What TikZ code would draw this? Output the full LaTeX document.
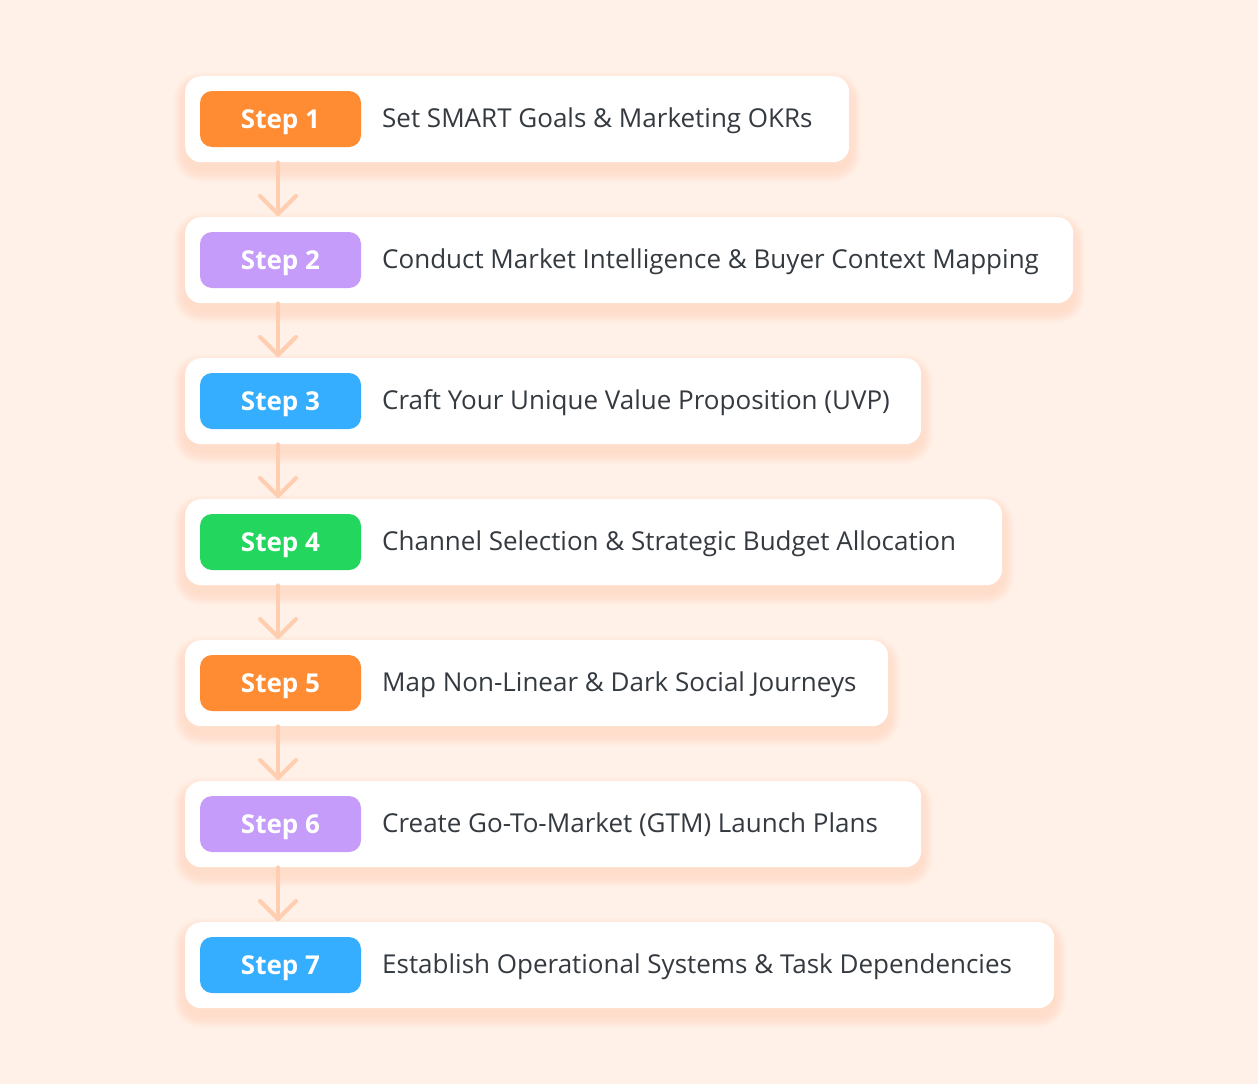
\documentclass[tikz,border=0pt]{standalone}
\usepackage{fontspec}
\setmainfont{Open Sans}
\usetikzlibrary{calc}
\definecolor{bg}{HTML}{FFF1E8}
\definecolor{shadowc}{HTML}{FFC9A6}
\definecolor{txt}{HTML}{343A40}
\definecolor{arrc}{HTML}{FFCDB0}
\definecolor{cOrange}{HTML}{FF8C33}
\definecolor{cPurple}{HTML}{C59CFA}
\definecolor{cBlue}{HTML}{36AEFF}
\definecolor{cGreen}{HTML}{22D65E}
\tikzset{
  card/.style={fill=white, rounded corners=16pt, anchor=north west, minimum height=86pt, inner sep=0pt},
  pill/.style={rounded corners=12pt, minimum width=161pt, minimum height=56pt, inner sep=0pt,
    text height=18.6pt, text depth=0pt,
    text=white, font=\fontsize{26}{30}\selectfont\bfseries},
  steplabel/.style={anchor=west, inner sep=0pt, text height=18.6pt, text depth=0pt,
    text=txt, font=\fontsize{26}{30}\selectfont},
  arr/.style={draw=arrc, line width=4pt, line cap=round, line join=round}
}
\begin{document}
\begin{tikzpicture}[x=1pt,y=-1pt]
\fill[bg] (0,0) rectangle (1258,1084);
\useasboundingbox (0,0) rectangle (1258,1084);
\foreach \i/\top/\right/\col/\lab in {
  1/76/849/cOrange/{Set SMART Goals \& Marketing OKRs},
  2/217/1073/cPurple/{Conduct Market Intelligence \& Buyer Context Mapping},
  3/358/921/cBlue/{Craft Your Unique Value Proposition (UVP)},
  4/499/1002/cGreen/{Channel Selection \& Strategic Budget Allocation},
  5/640/888/cOrange/{Map Non-Linear \& Dark Social Journeys},
  6/781/921/cPurple/{Create Go-To-Market (GTM) Launch Plans},
  7/922/1054/cBlue/{Establish Operational Systems \& Task Dependencies}}{
  \foreach \k in {1,...,12}{
    \fill[shadowc, opacity=0.04, rounded corners={16pt+\k pt}]
      (185-\k, \top+8-\k) rectangle (\right+\k, \top+94+\k);
  }
  \pgfmathsetmacro{\w}{\right-185}
  \node[card, minimum width=\w pt] (card\i) at (185,\top) {};
  \node[pill, fill=\col] (pill\i) at (280.5,\top+43) {Step \i};
  \node[steplabel] (lab\i) at (382,\top+42.5) {\lab};
}
\foreach \i [evaluate=\i as \j using int(\i+1)] in {1,...,6}{
  \coordinate (s\i) at ([xshift=-2.5pt]pill\i.center |- card\i.south);
  \coordinate (e\i) at ([xshift=-2.5pt,yshift=3pt]pill\j.center |- card\j.north);
  \draw[arr] (s\i) -- (e\i);
  \draw[arr] ($(e\i)+(-18,-18)$) -- (e\i) -- ($(e\i)+(18,-18)$);
}
\end{tikzpicture}
\end{document}
